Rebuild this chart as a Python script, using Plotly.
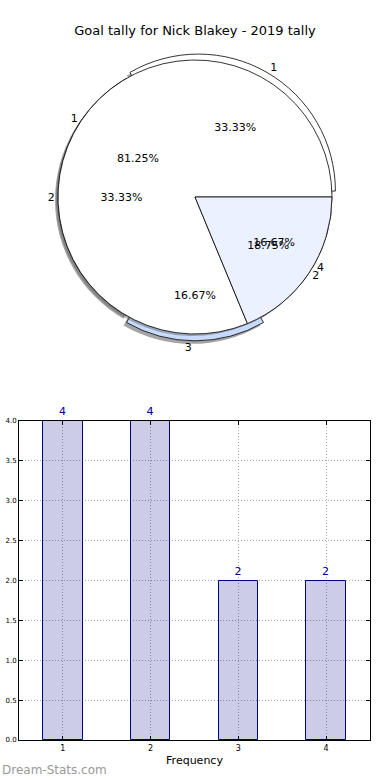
import plotly.graph_objects as go

# ---- data ----
title_text = "Goal tally for Nick Blakey - 2019 tally"
tally_labels = ["1", "2", "3", "4"]
tally_values = [4, 4, 2, 2]
pie_a_colors = ["#ffffff", "#ffffff", "#c8dafe", "#eaf0fe"]
pie_a_pull = [0.05, 0, 0.05, 0]

share_labels = ["1", "2"]
share_values = [13, 3]
pie_b_colors = ["#ffffff", "#ebf1fe"]

bar_x = [1, 2, 3, 4]
bar_y = [4, 4, 2, 2]
y_ticks = [0.0, 0.5, 1.0, 1.5, 2.0, 2.5, 3.0, 3.5, 4.0]

W, H = 390, 780
FONT = "DejaVu Sans"


def dom(cx, cy, r):
    return dict(x=[(cx - r) / W, (cx + r) / W], y=[1 - (cy + r) / H, 1 - (cy - r) / H])


def start_rot(values):
    # plotly counterclockwise places first slice clockwise of `rotation`;
    # shift so the first slice starts at 3 o'clock and runs counterclockwise (matplotlib style)
    return 90 - 360.0 * values[0] / sum(values)


R = 137
cx, cy = 195, 197
RA = R * 1.05

fig = go.Figure()

base = dict(sort=False, direction="counterclockwise", showlegend=False, hoverinfo="skip")
rot_a = start_rot(tally_values)
rot_b = start_rot(share_values)
clear4 = dict(colors=["rgba(0,0,0,0)"] * 4, line=dict(width=0))
clear2 = dict(colors=["rgba(0,0,0,0)"] * 2, line=dict(width=0))
tfont = dict(family=FONT, size=11, color="#000000")

# shadow of pie A
fig.add_trace(go.Pie(labels=tally_labels, values=tally_values, pull=pie_a_pull, rotation=rot_a,
                     domain=dom(cx - 3, cy + 3, RA),
                     marker=dict(colors=["rgba(90,90,90,0.55)"] * 4, line=dict(width=0)),
                     textinfo="none", **base))
# pie A wedges
fig.add_trace(go.Pie(labels=tally_labels, values=tally_values, pull=pie_a_pull, rotation=rot_a,
                     domain=dom(cx, cy, RA),
                     marker=dict(colors=pie_a_colors, line=dict(color="#000000", width=0.8)),
                     textinfo="none", **base))
# shadow of pie B
fig.add_trace(go.Pie(labels=share_labels, values=share_values, rotation=rot_b,
                     domain=dom(cx - 2, cy + 2, R),
                     marker=dict(colors=["rgba(90,90,90,0.45)"] * 2, line=dict(width=0)),
                     textinfo="none", **base))
# pie B wedges
fig.add_trace(go.Pie(labels=share_labels, values=share_values, rotation=rot_b,
                     domain=dom(cx, cy, R),
                     marker=dict(colors=pie_b_colors, line=dict(color="#000000", width=0.8)),
                     textinfo="none", **base))

# texts on top of all wedges
fig.add_trace(go.Pie(labels=tally_labels, values=tally_values, pull=pie_a_pull, rotation=rot_a,
                     domain=dom(cx, cy, RA), marker=clear4,
                     textinfo="percent", texttemplate="%{percent:.2%}",
                     textposition="inside", insidetextorientation="horizontal",
                     textfont=tfont, **base))
fig.add_trace(go.Pie(labels=tally_labels, values=tally_values, pull=pie_a_pull, rotation=rot_a,
                     domain=dom(cx, cy, RA), marker=clear4,
                     textinfo="label", textposition="outside", textfont=tfont, **base))
fig.add_trace(go.Pie(labels=share_labels, values=share_values, rotation=rot_b,
                     domain=dom(cx, cy, R), marker=clear2,
                     textinfo="percent", texttemplate="%{percent:.2%}",
                     textposition="inside", insidetextorientation="horizontal",
                     textfont=tfont, **base))
fig.add_trace(go.Pie(labels=share_labels, values=share_values, rotation=rot_b,
                     domain=dom(cx, cy, R), marker=clear2,
                     textinfo="label", textposition="outside", textfont=tfont, **base))

# bar chart
fig.add_trace(go.Bar(x=bar_x, y=bar_y, width=0.45,
                     marker=dict(color="rgba(0,0,128,0.2)", line=dict(color="#000080", width=1)),
                     text=[str(v) for v in bar_y], textposition="outside",
                     textfont=dict(family=FONT, size=11, color="#000080"),
                     cliponaxis=False, showlegend=False, hoverinfo="skip"))

axis_common = dict(showline=True, linecolor="#000000", linewidth=1, mirror="ticks",
                   ticks="inside", ticklen=4, tickcolor="#000000",
                   showgrid=True, gridcolor="#a8a8a8", griddash="1px,2px", gridwidth=1,
                   zeroline=False, automargin=False)

fig.update_layout(
    width=W, height=H,
    margin=dict(l=0, r=0, t=0, b=0, autoexpand=False),
    paper_bgcolor="#ffffff", plot_bgcolor="#ffffff",
    font=dict(family=FONT, color="#000000"),
    title=dict(text=title_text, x=0.5, xanchor="center", y=1 - 30 / H, yanchor="middle",
               font=dict(family=FONT, size=13, color="#000000")),
    xaxis=dict(domain=[19 / W, 370 / W], range=[0.5, 4.5], tickvals=bar_x,
               ticktext=[str(v) for v in bar_x], tickfont=dict(size=8),
               title=dict(text="Frequency", font=dict(size=11), standoff=4),
               **axis_common),
    yaxis=dict(domain=[1 - 740 / H, 1 - 421 / H], range=[0, 4], tickvals=y_ticks,
               ticktext=[f"{v:.1f}" for v in y_ticks], tickfont=dict(size=7),
               **axis_common),
    bargap=0,
    annotations=[dict(text="Dream-Stats.com", x=0, y=1 - 770 / H, xref="paper", yref="paper",
                      xanchor="left", yanchor="middle", showarrow=False,
                      font=dict(family=FONT, size=12, color="#9a9a9a"))],
)

fig.write_html("out.html", config={"displayModeBar": False},
               post_script="document.body.style.margin='0';document.body.style.overflow='hidden';")
